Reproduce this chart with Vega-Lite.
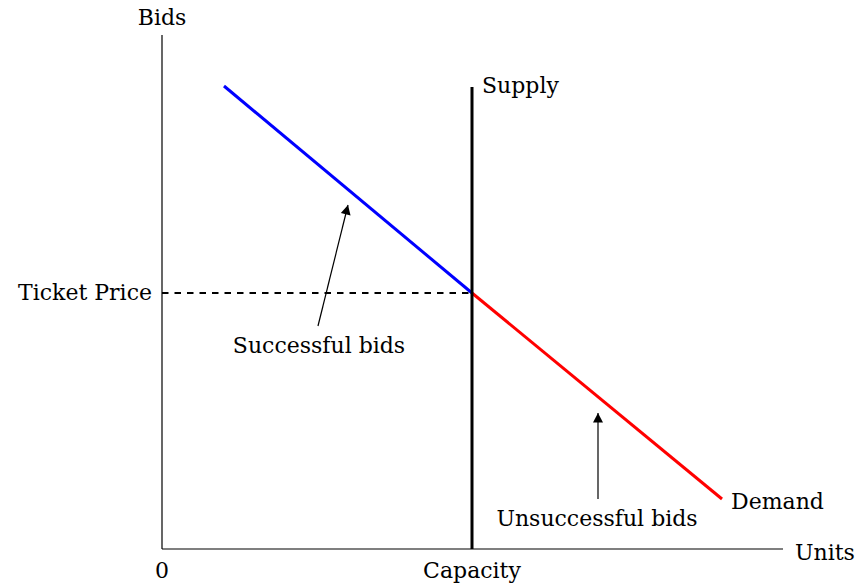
{
  "$schema": "https://vega.github.io/schema/vega-lite/v6.json",
  "width": 621,
  "height": 514,
  "autosize": {"type": "none"},
  "padding": {"left": 162, "top": 35, "right": 76, "bottom": 39},
  "background": "white",
  "config": {"view": {"stroke": null}, "font": "DejaVu Serif"},
  "datasets": {
    "curves": [
      {"series": "Successful", "x": 62, "y": 463},
      {"series": "Successful", "x": 310, "y": 256},
      {"series": "Unsuccessful", "x": 310, "y": 256},
      {"series": "Unsuccessful", "x": 560, "y": 50}
    ],
    "axes": [
      {"x": 0, "y": 0, "x2": 621, "y2": 0},
      {"x": 0, "y": 0, "x2": 0, "y2": 514}
    ],
    "supply": [{"x": 310, "y": 0, "y2": 462}],
    "price": [{"x": 0, "x2": 310, "y": 256}],
    "shaft1": [{"x": 156, "y": 223, "x2": 186, "y2": 344}],
    "shaft2": [{"x": 436, "y": 50, "x2": 436, "y2": 136}],
    "labels": [
      {"text": "Bids", "x": 0, "y": 524, "align": "center"},
      {"text": "Supply", "x": 320, "y": 456, "align": "left"},
      {"text": "Ticket Price", "x": -10, "y": 249, "align": "right"},
      {"text": "Successful bids", "x": 157, "y": 196, "align": "center"},
      {"text": "Unsuccessful bids", "x": 435, "y": 23, "align": "center"},
      {"text": "Demand", "x": 569, "y": 40, "align": "left"},
      {"text": "Units", "x": 633, "y": -11, "align": "left"},
      {"text": "0", "x": 0, "y": -29, "align": "center"},
      {"text": "Capacity", "x": 310, "y": -29, "align": "center"}
    ]
  },
  "layer": [
    {
      "data": {"name": "axes"},
      "mark": {"type": "rule", "color": "black", "strokeWidth": 1.2},
      "encoding": {
        "x": {"field": "x", "type": "quantitative", "scale": {"domain": [0, 621], "nice": false, "zero": false}, "axis": null},
        "y": {"field": "y", "type": "quantitative", "scale": {"domain": [0, 514], "nice": false, "zero": false}, "axis": null},
        "x2": {"field": "x2"},
        "y2": {"field": "y2"}
      }
    },
    {
      "data": {"name": "price"},
      "mark": {"type": "rule", "color": "black", "strokeWidth": 1.8, "strokeDash": [6.5, 6]},
      "encoding": {
        "x": {"field": "x", "type": "quantitative"},
        "x2": {"field": "x2"},
        "y": {"field": "y", "type": "quantitative"}
      }
    },
    {
      "data": {"name": "curves"},
      "mark": {"type": "line", "strokeWidth": 3},
      "encoding": {
        "x": {"field": "x", "type": "quantitative"},
        "y": {"field": "y", "type": "quantitative"},
        "color": {"field": "series", "type": "nominal", "scale": {"domain": ["Successful", "Unsuccessful"], "range": ["#0000ff", "#ff0000"]}, "legend": null}
      }
    },
    {
      "data": {"name": "supply"},
      "mark": {"type": "rule", "color": "black", "strokeWidth": 3},
      "encoding": {
        "x": {"field": "x", "type": "quantitative"},
        "y": {"field": "y", "type": "quantitative"},
        "y2": {"field": "y2"}
      }
    },
    {
      "data": {"name": "shaft1"},
      "mark": {"type": "rule", "color": "black", "strokeWidth": 1.2},
      "encoding": {
        "x": {"field": "x", "type": "quantitative"},
        "y": {"field": "y", "type": "quantitative"},
        "x2": {"field": "x2"},
        "y2": {"field": "y2"}
      }
    },
    {
      "data": {"name": "shaft1"},
      "mark": {"type": "point", "shape": "M0,0L-0.5,0.95L0.5,0.95Z", "size": 400, "filled": true, "color": "black", "opacity": 1, "angle": 14},
      "encoding": {
        "x": {"field": "x2", "type": "quantitative"},
        "y": {"field": "y2", "type": "quantitative"}
      }
    },
    {
      "data": {"name": "shaft2"},
      "mark": {"type": "rule", "color": "black", "strokeWidth": 1.2},
      "encoding": {
        "x": {"field": "x", "type": "quantitative"},
        "y": {"field": "y", "type": "quantitative"},
        "x2": {"field": "x2"},
        "y2": {"field": "y2"}
      }
    },
    {
      "data": {"name": "shaft2"},
      "mark": {"type": "point", "shape": "M0,0L-0.5,0.95L0.5,0.95Z", "size": 400, "filled": true, "color": "black", "opacity": 1, "angle": 0},
      "encoding": {
        "x": {"field": "x2", "type": "quantitative"},
        "y": {"field": "y2", "type": "quantitative"}
      }
    },
    {
      "data": {"name": "labels"},
      "transform": [{"filter": "datum.align == 'center'"}],
      "mark": {"type": "text", "fontSize": 22, "font": "DejaVu Serif", "baseline": "alphabetic", "align": "center", "color": "black"},
      "encoding": {
        "x": {"field": "x", "type": "quantitative"},
        "y": {"field": "y", "type": "quantitative"},
        "text": {"field": "text"}
      }
    },
    {
      "data": {"name": "labels"},
      "transform": [{"filter": "datum.align == 'left'"}],
      "mark": {"type": "text", "fontSize": 22, "font": "DejaVu Serif", "baseline": "alphabetic", "align": "left", "color": "black"},
      "encoding": {
        "x": {"field": "x", "type": "quantitative"},
        "y": {"field": "y", "type": "quantitative"},
        "text": {"field": "text"}
      }
    },
    {
      "data": {"name": "labels"},
      "transform": [{"filter": "datum.align == 'right'"}],
      "mark": {"type": "text", "fontSize": 22, "font": "DejaVu Serif", "baseline": "alphabetic", "align": "right", "color": "black"},
      "encoding": {
        "x": {"field": "x", "type": "quantitative"},
        "y": {"field": "y", "type": "quantitative"},
        "text": {"field": "text"}
      }
    }
  ]
}
